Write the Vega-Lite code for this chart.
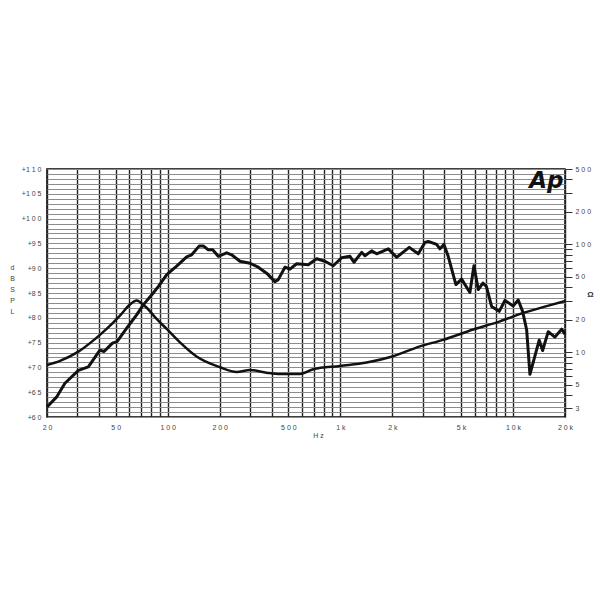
{
  "$schema": "https://vega.github.io/schema/vega-lite/v6.json",
  "autosize": {"type": "none"},
  "width": 518,
  "height": 248,
  "padding": {"left": 47, "top": 169, "right": 35, "bottom": 183},
  "background": "white",
  "config": {
    "view": {"stroke": "black", "strokeWidth": 1.5},
    "font": "Liberation Sans"
  },
  "datasets": {
    "spl": [
      {"f": 20, "db": 62.0}, {"f": 22.7, "db": 64.0}, {"f": 25.4, "db": 66.8}, {"f": 30.4, "db": 69.4},
      {"f": 34.7, "db": 70.1}, {"f": 40.5, "db": 73.5}, {"f": 42.8, "db": 73.2}, {"f": 47.9, "db": 74.9},
      {"f": 50.9, "db": 75.2}, {"f": 57.9, "db": 77.9}, {"f": 66.1, "db": 80.6}, {"f": 72.2, "db": 82.6},
      {"f": 82.5, "db": 85.0}, {"f": 88.2, "db": 86.3}, {"f": 98.7, "db": 88.7}, {"f": 112.7, "db": 90.4},
      {"f": 128.8, "db": 92.3}, {"f": 137.7, "db": 92.7}, {"f": 152.4, "db": 94.5}, {"f": 160.7, "db": 94.5},
      {"f": 171.8, "db": 93.7}, {"f": 182.2, "db": 93.7}, {"f": 196.3, "db": 92.4}, {"f": 219.5, "db": 93.1},
      {"f": 234.7, "db": 92.7}, {"f": 262.1, "db": 91.4}, {"f": 300, "db": 91.0}, {"f": 334.6, "db": 90.2},
      {"f": 374, "db": 89.0}, {"f": 418, "db": 87.3}, {"f": 436.8, "db": 87.7}, {"f": 477.6, "db": 90.2},
      {"f": 510.7, "db": 89.8}, {"f": 558.4, "db": 90.9}, {"f": 651.7, "db": 90.7}, {"f": 729, "db": 91.9},
      {"f": 814, "db": 91.4}, {"f": 909.6, "db": 90.5}, {"f": 1017, "db": 92.1}, {"f": 1137, "db": 92.4},
      {"f": 1199, "db": 91.2}, {"f": 1329, "db": 93.2}, {"f": 1388, "db": 92.5}, {"f": 1518, "db": 93.5},
      {"f": 1623, "db": 92.9}, {"f": 1894, "db": 93.9}, {"f": 2118, "db": 92.2}, {"f": 2506, "db": 94.2},
      {"f": 2825, "db": 92.9}, {"f": 3090, "db": 95.2}, {"f": 3228, "db": 95.4}, {"f": 3611, "db": 94.8},
      {"f": 3774, "db": 93.9}, {"f": 3979, "db": 94.8}, {"f": 4213, "db": 92.4}, {"f": 4669, "db": 86.7},
      {"f": 5037, "db": 87.8}, {"f": 5627, "db": 85.1}, {"f": 5938, "db": 90.5}, {"f": 6288, "db": 85.7},
      {"f": 6694, "db": 87.0}, {"f": 7014, "db": 86.3}, {"f": 7516, "db": 82.3}, {"f": 8318, "db": 81.3},
      {"f": 8977, "db": 83.5}, {"f": 10025, "db": 82.4}, {"f": 10716, "db": 83.6}, {"f": 11365, "db": 81.3},
      {"f": 11990, "db": 77.6}, {"f": 12530, "db": 68.6}, {"f": 14180, "db": 75.5}, {"f": 14840, "db": 73.4},
      {"f": 15990, "db": 77.2}, {"f": 17480, "db": 76.1}, {"f": 19120, "db": 77.7}, {"f": 20000, "db": 76.7}
    ],
    "imp": [
      {"f": 20, "ohm": 7.6}, {"f": 23.8, "ohm": 8.3}, {"f": 30.4, "ohm": 10.1}, {"f": 37.9, "ohm": 13.2},
      {"f": 44.3, "ohm": 16.4}, {"f": 52.9, "ohm": 21.8}, {"f": 60.5, "ohm": 27.7}, {"f": 66.1, "ohm": 30.2},
      {"f": 69.1, "ohm": 29.1}, {"f": 75.6, "ohm": 25.8}, {"f": 86.3, "ohm": 20.3}, {"f": 98.7, "ohm": 16.4},
      {"f": 117.8, "ohm": 12.3}, {"f": 147, "ohm": 9.1}, {"f": 200.8, "ohm": 7.24}, {"f": 251, "ohm": 6.54},
      {"f": 300, "ohm": 6.83}, {"f": 374, "ohm": 6.45}, {"f": 447, "ohm": 6.27}, {"f": 583, "ohm": 6.27},
      {"f": 697, "ohm": 6.93}, {"f": 995, "ohm": 7.44}, {"f": 1420, "ohm": 8.0}, {"f": 1998, "ohm": 9.1},
      {"f": 2890, "ohm": 11.3}, {"f": 3945, "ohm": 13.0}, {"f": 5880, "ohm": 16.2}, {"f": 8400, "ohm": 19.3},
      {"f": 11460, "ohm": 23.1}, {"f": 15650, "ohm": 26.7}, {"f": 20000, "ohm": 29.7}
    ],
    "logo": [{"f": 15600, "db": 106.1, "label": "Ap"}]
  },
  "layer": [
    {
      "data": {"name": "spl"},
      "mark": {"type": "line", "color": "#111", "strokeWidth": 3, "strokeJoin": "round"},
      "encoding": {
        "x": {
          "field": "f", "type": "quantitative",
          "scale": {"type": "log", "domain": [20, 20000], "nice": false},
          "axis": {
            "values": [20,30,40,50,60,70,80,90,100,200,300,400,500,600,700,800,900,1000,2000,3000,4000,5000,6000,7000,8000,9000,10000,20000],
            "grid": true, "gridColor": "#222", "gridWidth": 1.4,
            "ticks": false, "domain": false,
            "labelExpr": "datum.value==20?'2 0':datum.value==50?'5 0':datum.value==100?'1 0 0':datum.value==200?'2 0 0':datum.value==500?'5 0 0':datum.value==1000?'1 k':datum.value==2000?'2 k':datum.value==5000?'5 k':datum.value==10000?'1 0 k':datum.value==20000?'2 0 k':''",
            "labelFontSize": 7, "labelColor": "#444", "labelPadding": 6, "labelFlush": false, "labelOverlap": false,
            "title": "H z", "titleFontSize": 7, "titleFontWeight": "normal", "titleColor": "#444",
            "titleX": 271, "titleY": 14, "titleBaseline": "top", "titleAnchor": null
          }
        },
        "y": {
          "field": "db", "type": "quantitative",
          "scale": {"domain": [60, 110], "nice": false, "zero": false},
          "axis": {
            "values": [60,61,62,63,64,65,66,67,68,69,70,71,72,73,74,75,76,77,78,79,80,81,82,83,84,85,86,87,88,89,90,91,92,93,94,95,96,97,98,99,100,101,102,103,104,105,106,107,108,109,110],
            "grid": true, "gridColor": "#8c8c8c", "gridWidth": 1,
            "ticks": false, "domain": false,
            "labelExpr": "datum.value==60?'+6 0':datum.value==65?'+6 5':datum.value==70?'+7 0':datum.value==75?'+7 5':datum.value==80?'+8 0':datum.value==85?'+8 5':datum.value==90?'+9 0':datum.value==95?'+9 5':datum.value==100?'+1 0 0':datum.value==105?'+1 0 5':datum.value==110?'+1 1 0':''",
            "labelFontSize": 7, "labelColor": "#444", "labelPadding": 6, "labelFlush": false, "labelOverlap": false,
            "title": ["d", "B", " ", "S", "P", "L"],
            "titleAngle": 0, "titleX": -35, "titleY": 94, "titleAlign": "center", "titleBaseline": "top",
            "titleFontSize": 7, "titleFontWeight": "normal", "titleLineHeight": 11, "titleColor": "#444"
          }
        }
      }
    },
    {
      "data": {"name": "imp"},
      "mark": {"type": "line", "color": "#111", "strokeWidth": 2.5, "interpolate": "monotone"},
      "encoding": {
        "x": {"field": "f", "type": "quantitative"},
        "y": {
          "field": "ohm", "type": "quantitative",
          "scale": {"type": "log", "domain": [2.5, 500], "nice": false},
          "axis": {
            "orient": "right",
            "values": [3,4,5,6,7,8,9,10,20,30,40,50,60,70,80,90,100,200,300,400,500],
            "grid": false, "domain": false,
            "ticks": true, "tickSize": 7, "tickColor": "#333", "tickWidth": 1,
            "labelExpr": "datum.value==3?'3':datum.value==5?'5':datum.value==10?'1 0':datum.value==20?'2 0':datum.value==50?'5 0':datum.value==100?'1 0 0':datum.value==200?'2 0 0':datum.value==500?'5 0 0':''",
            "labelFontSize": 7, "labelColor": "#444", "labelPadding": 3, "labelFlush": false, "labelOverlap": false,
            "title": "Ω", "titleAngle": 0, "titleX": 25, "titleY": 125, "titleAlign": "center", "titleBaseline": "middle",
            "titleFontSize": 8, "titleFontWeight": "bold", "titleColor": "#333"
          }
        }
      }
    },
    {
      "data": {"name": "logo"},
      "mark": {"type": "text", "font": "DejaVu Sans", "fontWeight": "bold", "fontStyle": "italic", "fontSize": 23, "align": "center", "baseline": "alphabetic", "color": "#111"},
      "encoding": {
        "x": {"field": "f", "type": "quantitative"},
        "y": {"field": "db", "type": "quantitative", "scale": {"domain": [60, 110], "nice": false, "zero": false}, "axis": null},
        "text": {"field": "label"}
      }
    }
  ],
  "resolve": {"scale": {"y": "independent"}}
}
